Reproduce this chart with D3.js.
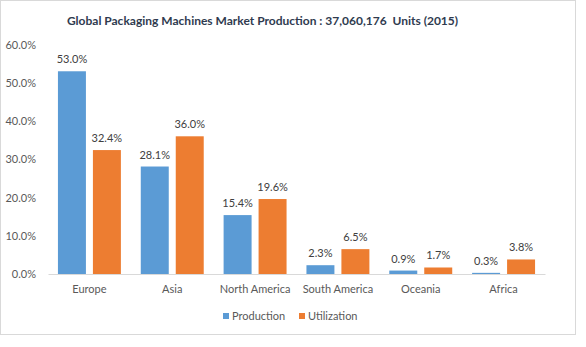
<!DOCTYPE html>
<html><head><meta charset="utf-8">
<script src="https://cdn.jsdelivr.net/npm/d3@7"></script>
<style>body{margin:0;background:#fff}svg{display:block}</style>
</head><body>
<svg id="c" width="586" height="347"></svg>
<script>
const categories = ["Europe","Asia","North America","South America","Oceania","Africa"];
const production = [53.0,28.1,15.4,2.3,0.9,0.3];
const utilization = [32.4,36.0,19.6,6.5,1.7,3.8];
const seriesNames = ["Production","Utilization"];
const yTicks = [0,10,20,30,40,50,60];
const colors = ["#5B9BD5","#ED7D31"];
const title = "Global Packaging Machines Market Production : 37,060,176  Units (2015)";

const svg = d3.select("#c");
const font = "Lato, 'Open Sans', sans-serif";
svg.append("rect").attr("x",0.5).attr("y",0.5).attr("width",575).attr("height",334)
  .attr("fill","#fff").attr("stroke","#d9d9d9");

const m = {l:48, r:545, t:44.5, b:274};
const x = d3.scaleBand().domain(categories).range([m.l,m.r]).paddingInner(0.24).paddingOuter(0.12);
const xs = d3.scaleBand().domain(seriesNames).range([0,x.bandwidth()]).paddingInner(0.2);
const y = d3.scaleLinear().domain([0,60]).range([m.b,m.t]);

svg.append("text").attr("x",262.5).attr("y",25).attr("text-anchor","middle")
  .attr("font-family",font).attr("font-weight","bold").attr("font-size",12)
  .attr("fill","#2f3b4f").attr("xml:space","preserve").text(title);

const yAxis = d3.axisLeft(y).tickValues(yTicks).tickSize(0).tickFormat(d=>d.toFixed(1)+"%");
const ya = svg.append("g").attr("transform",`translate(${m.l-9},0)`).call(yAxis);
ya.select(".domain").remove();
ya.selectAll("text").attr("font-family",font).attr("font-size",11).attr("fill","#595959");

const data = [production, utilization];
const g = svg.append("g");
categories.forEach((c,i)=>{
  seriesNames.forEach((s,j)=>{
    const v = data[j][i];
    g.append("rect").attr("x",x(c)+xs(s)).attr("y",y(v)).attr("width",xs.bandwidth())
      .attr("height",y(0)-y(v)).attr("fill",colors[j]);
    g.append("text").attr("x",x(c)+xs(s)+xs.bandwidth()/2).attr("y",y(v)-8)
      .attr("text-anchor","middle").attr("font-family",font).attr("font-size",11)
      .attr("fill","#404040").text(v.toFixed(1)+"%");
  });
});

const xAxis = d3.axisBottom(x).tickSize(0).tickPadding(11);
const xa = svg.append("g").attr("transform",`translate(0,${m.b})`).call(xAxis);
xa.select(".domain").attr("stroke","#d9d9d9");
xa.selectAll("text").attr("font-family",font).attr("font-size",11).attr("fill","#595959");

const lg = svg.append("g");
const lx = [223, 299];
seriesNames.forEach((s,j)=>{
  lg.append("rect").attr("x",lx[j]).attr("y",313).attr("width",6).attr("height",6).attr("fill",colors[j]);
  lg.append("text").attr("x",lx[j]+9).attr("y",320).attr("font-family",font).attr("font-size",11)
    .attr("fill","#595959").text(s);
});
</script>
</body></html>
